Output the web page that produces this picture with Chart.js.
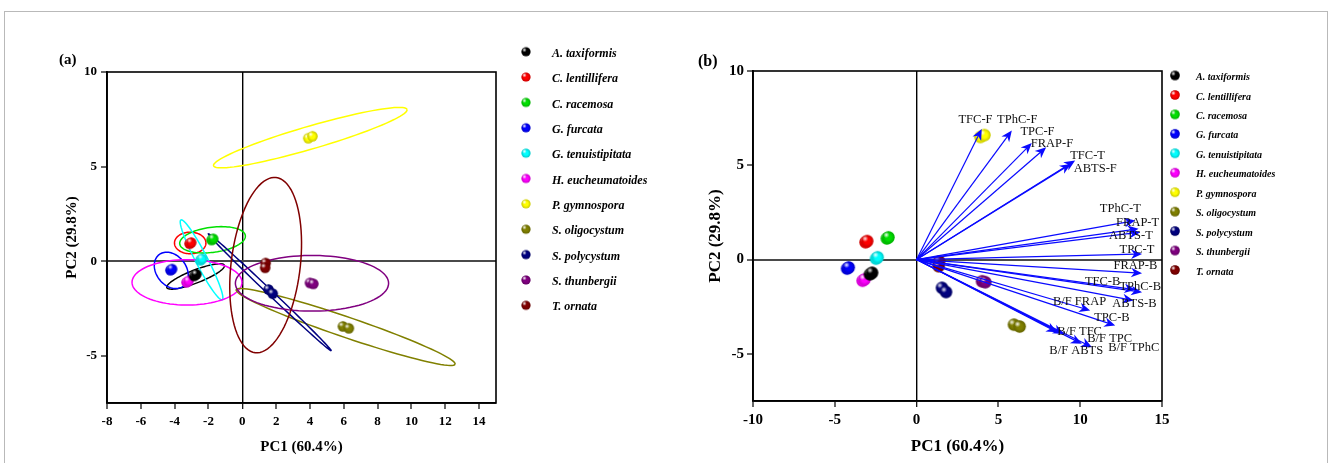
<!DOCTYPE html>
<html>
<head>
<meta charset="utf-8">
<script src="https://cdn.jsdelivr.net/npm/chart.js@4.4.1/dist/chart.umd.min.js"></script>
<style>
  html, body { margin: 0; padding: 0; background: #fff; }
  #page { position: relative; width: 1328px; height: 463px; overflow: hidden; font-family: "Liberation Serif", serif; }
  #frame { position: absolute; left: 4px; top: 11px; width: 1322px; height: 480px; border: 1px solid #b9b9b9; }
  canvas { position: absolute; top: 0; }
  .tag { position: absolute; font-weight: bold; font-size: 15px; color: #000; }
</style>
</head>
<body>
<div id="page">
  <div id="frame"></div>
  <canvas id="chartA" style="left:0" width="680" height="463"></canvas>
  <canvas id="chartB" style="left:680px" width="648" height="463"></canvas>
  <div class="tag" style="left:59px;top:51px">(a)</div>
  <div class="tag" style="left:698px;top:52px;font-size:16px">(b)</div>
</div>
<script>
// PCA score plot (a) with group ellipses, biplot (b) with loading arrows

const FONT = '"Liberation Serif", "Times New Roman", serif';

const species = ['A. taxiformis', 'C. lentillifera', 'C. racemosa', 'G. furcata', 'G. tenuistipitata',
  'H. eucheumatoides', 'P. gymnospora', 'S. oligocystum', 'S. polycystum', 'S. thunbergii', 'T. ornata'];
const speciesColors = ['#000000', '#ff0000', '#00e000', '#0000ff', '#00ffff', '#ff00ff',
  '#ffff00', '#808000', '#000080', '#800080', '#800000'];

// replicate scores per species
const pc1Scores = [[-2.85, -2.72], [-3.12, -3.02], [-1.82, -1.72], [-4.25, -4.15], [-2.48, -2.38],
  [-3.3, -3.18], [3.9, 4.15], [5.95, 6.3], [1.55, 1.8], [4.0, 4.2], [1.38, 1.35]];
const pc2Scores = [[-0.78, -0.7], [0.92, 0.98], [1.12, 1.18], [-0.48, -0.42], [0.05, 0.12],
  [-1.12, -1.05], [6.5, 6.6], [-3.45, -3.55], [-1.5, -1.72], [-1.15, -1.2], [-0.1, -0.35]];

// confidence ellipses (panel a): centre, major and minor half-axis vectors
const ellipseCenterX = [-2.76, -3.08, -1.76, -4.2, -2.41, -3.27, 4.02, 6.11, 1.63, 4.12, 1.38];
const ellipseCenterY = [-0.81, 0.96, 1.13, -0.49, 0.07, -1.12, 6.53, -3.48, -1.65, -1.17, -0.21];
const ellipseMajor = [[1.7, 0.59], [0.93, 0], [1.94, 0.22], [0.71, -0.84], [-1.22, 2.11], [3.25, 0],
  [5.72, 1.49], [6.47, -1.97], [3.63, -3.09], [4.53, 0], [0.62, 4.63]];
const ellipseMinor = [[0.14, -0.32], [0, 0.57], [0.095, -0.66], [0.71, 0.47], [-0.32, -0.14], [0, 1.2],
  [0.19, -0.58], [-0.2, -0.51], [-0.1, -0.095], [0, 1.47], [2.03, -0.22]];

// loadings (panel b)
const loadingNames = ['TFC-F', 'TPhC-F', 'TPC-F', 'FRAP-F', 'TFC-T', 'ABTS-F', 'TPhC-T', 'FRAP-T', 'ABTS-T',
  'TPC-T', 'FRAP-B', 'TFC-B', 'TPhC-B', 'ABTS-B', 'B/F FRAP', 'TPC-B', 'B/F TFC', 'B/F TPC', 'B/F ABTS', 'B/F TPhC'];
const loadingPC1 = [3.98, 5.82, 7.04, 7.92, 9.69, 9.43, 13.37, 13.57, 13.67, 13.78, 13.78, 13.37, 13.78, 13.26,
  10.61, 12.14, 8.6, 10.1, 9.0, 10.72];
const loadingPC2 = [6.93, 6.84, 6.18, 5.95, 5.25, 5.07, 2.07, 1.63, 1.45, 0.3, -0.72, -1.6, -1.73, -2.17,
  -2.7, -3.5, -3.85, -4.47, -3.95, -4.65];
const loadingLabelX = [3.6, 6.15, 7.39, 8.27, 10.45, 10.92, 12.45, 13.51, 13.1, 13.47, 13.37, 11.37, 13.67, 13.31,
  9.96, 11.94, 9.96, 11.8, 9.76, 13.27];
const loadingLabelY = [7.4, 7.4, 6.8, 6.13, 5.51, 4.84, 2.69, 1.98, 1.27, 0.53, -0.32, -1.17, -1.43, -2.35,
  -2.26, -3.09, -3.8, -4.2, -4.86, -4.7];

const xTicksA = [-8, -6, -4, -2, 0, 2, 4, 6, 8, 10, 12, 14];
const xTicksB = [-10, -5, 0, 5, 10, 15];
const yTicks = [-5, 0, 5, 10];

const sphereCache = {};
function sphere(color, r) {
  const key = color + r;
  if (sphereCache[key]) return sphereCache[key];
  const c = document.createElement('canvas');
  c.width = c.height = Math.ceil(2 * r + 2);
  const g = c.getContext('2d');
  const m = c.width / 2;
  g.fillStyle = color;
  g.beginPath(); g.arc(m, m, r, 0, Math.PI * 2); g.fill();
  const shade = g.createRadialGradient(m, m, r * 0.45, m, m, r);
  shade.addColorStop(0, 'rgba(0,0,0,0)');
  shade.addColorStop(1, 'rgba(0,0,0,0.22)');
  g.fillStyle = shade; g.fill();
  const hi = g.createRadialGradient(m - r * 0.35, m - r * 0.4, 0, m - r * 0.35, m - r * 0.4, r * 0.5);
  hi.addColorStop(0, 'rgba(255,255,255,0.95)');
  hi.addColorStop(1, 'rgba(255,255,255,0)');
  g.fillStyle = hi; g.fill();
  sphereCache[key] = c;
  return c;
}

function zeroGrid(color, width) {
  return {
    color: (c) => (c.tick && c.tick.value === 0 ? color : 'rgba(0,0,0,0)'),
    lineWidth: (c) => (c.tick && c.tick.value === 0 ? width : 0),
    tickColor: '#000', tickWidth: 1.2, tickLength: 6, drawTicks: true,
  };
}

function axis(o) {
  return {
    type: 'linear', min: o.min, max: o.max,
    afterBuildTicks: (s) => { s.ticks = o.ticks.map((v) => ({ value: v })); },
    afterFit: (s) => { if (o.width) s.width = o.width; if (o.height) s.height = o.height; },
    ticks: { font: { family: FONT, weight: 'bold', size: o.tickSize }, color: '#000', padding: o.tickPad, callback: (v) => String(v) },
    title: { display: true, text: o.title, color: '#000', font: { family: FONT, weight: 'bold', size: o.titleSize }, padding: o.titlePad },
    grid: zeroGrid(o.zeroColor, o.zeroWidth),
    border: { display: true, color: '#000', width: 1.8 },
  };
}

const plotBox = {
  id: 'plotBox',
  afterDraw(chart) {
    const { ctx, chartArea: a } = chart;
    ctx.save();
    ctx.strokeStyle = '#000';
    ctx.lineWidth = 1.6;
    ctx.strokeRect(a.left, a.top, a.right - a.left, a.bottom - a.top);
    ctx.restore();
  },
};

const ellipses = {
  id: 'ellipses',
  beforeDatasetsDraw(chart) {
    const { ctx, chartArea: a, scales: { x, y } } = chart;
    ctx.save();
    ctx.beginPath(); ctx.rect(a.left, a.top, a.width, a.height); ctx.clip();
    ctx.lineWidth = 1.5;
    species.forEach((_, i) => {
      const [ux, uy] = ellipseMajor[i];
      const [vx, vy] = ellipseMinor[i];
      ctx.beginPath();
      for (let k = 0; k <= 90; k++) {
        const t = (k / 90) * Math.PI * 2;
        const px = x.getPixelForValue(ellipseCenterX[i] + ux * Math.cos(t) + vx * Math.sin(t));
        const py = y.getPixelForValue(ellipseCenterY[i] + uy * Math.cos(t) + vy * Math.sin(t));
        if (k) ctx.lineTo(px, py); else ctx.moveTo(px, py);
      }
      ctx.strokeStyle = speciesColors[i];
      ctx.stroke();
    });
    ctx.restore();
  },
};

const loadings = {
  id: 'loadings',
  afterDatasetsDraw(chart) {
    const { ctx, scales: { x, y } } = chart;
    const x0 = x.getPixelForValue(0), y0 = y.getPixelForValue(0);
    ctx.save();
    ctx.strokeStyle = '#0a0aff';
    ctx.fillStyle = '#0a0aff';
    ctx.lineWidth = 1.2;
    loadingNames.forEach((_, i) => {
      const x1 = x.getPixelForValue(loadingPC1[i]), y1 = y.getPixelForValue(loadingPC2[i]);
      const ang = Math.atan2(y1 - y0, x1 - x0);
      const cs = Math.cos(ang), sn = Math.sin(ang);
      const hl = 11, hw = 4.8;
      const bx = x1 - hl * cs, by = y1 - hl * sn;
      ctx.beginPath(); ctx.moveTo(x0, y0); ctx.lineTo(x1 - 6 * cs, y1 - 6 * sn); ctx.stroke();
      ctx.beginPath();
      ctx.moveTo(x1, y1);
      ctx.lineTo(bx - hw * sn, by + hw * cs);
      ctx.lineTo(x1 - 0.7 * hl * cs, y1 - 0.7 * hl * sn);
      ctx.lineTo(bx + hw * sn, by - hw * cs);
      ctx.closePath();
      ctx.fill();
    });
    ctx.fillStyle = '#111';
    ctx.font = '12.5px ' + FONT;
    ctx.textAlign = 'center';
    ctx.textBaseline = 'middle';
    loadingNames.forEach((name, i) => {
      ctx.fillText(name, x.getPixelForValue(loadingLabelX[i]), y.getPixelForValue(loadingLabelY[i]));
    });
    ctx.restore();
  },
};

function sphereLegend(id, cx, y0, dy, textX, size, r) {
  return {
    id,
    afterDraw(chart) {
      const ctx = chart.ctx;
      ctx.save();
      ctx.font = 'italic bold ' + size + 'px ' + FONT;
      ctx.fillStyle = '#000';
      ctx.textAlign = 'left';
      ctx.textBaseline = 'middle';
      species.forEach((name, i) => {
        const yy = y0 + i * dy;
        const img = sphere(speciesColors[i], r);
        ctx.drawImage(img, cx - img.width / 2, yy - img.height / 2);
        ctx.fillText(name, textX, yy + 2);
      });
      ctx.restore();
    },
  };
}

function scoreDatasets(r) {
  return species.map((name, i) => ({
    label: name,
    data: pc1Scores[i].map((v, j) => ({ x: v, y: pc2Scores[i][j] })),
    pointStyle: sphere(speciesColors[i], r),
    pointRadius: r,
  }));
}

const common = { responsive: false, animation: false, devicePixelRatio: 1 };

new Chart(document.getElementById('chartA'), {
  type: 'scatter',
  data: { datasets: scoreDatasets(5.2) },
  options: {
    ...common,
    layout: { padding: { left: 40, top: 72, right: 184, bottom: 0 } },
    plugins: { legend: { display: false }, tooltip: { enabled: false } },
    scales: {
      x: axis({ min: -8, max: 15, ticks: xTicksA, height: 60, tickSize: 13, tickPad: 5, title: 'PC1 (60.4%)',
        titleSize: 15, titlePad: { top: 0, bottom: 7 }, zeroColor: '#000', zeroWidth: 1.4 }),
      y: axis({ min: -7.5, max: 10, ticks: yTicks, width: 67, tickSize: 13, tickPad: 4, title: 'PC2 (29.8%)',
        titleSize: 15, titlePad: { top: 23, bottom: 0 }, zeroColor: '#4a4a4a', zeroWidth: 2 }),
    },
  },
  plugins: [ellipses, plotBox, sphereLegend('legendA', 526, 51.7, 25.36, 552, 12, 4.6)],
});

new Chart(document.getElementById('chartB'), {
  type: 'scatter',
  data: { datasets: scoreDatasets(6.2) },
  options: {
    ...common,
    layout: { padding: { left: 10, top: 71, right: 166, bottom: 0 } },
    plugins: { legend: { display: false }, tooltip: { enabled: false } },
    scales: {
      x: axis({ min: -10, max: 15, ticks: xTicksB, height: 62, tickSize: 15, tickPad: 4, title: 'PC1 (60.4%)',
        titleSize: 17, titlePad: { top: 0, bottom: 6 }, zeroColor: '#000', zeroWidth: 1.4 }),
      y: axis({ min: -7.5, max: 10, ticks: yTicks, width: 63, tickSize: 15, tickPad: 3, title: 'PC2 (29.8%)',
        titleSize: 17, titlePad: { top: 15, bottom: 0 }, zeroColor: '#4a4a4a', zeroWidth: 2 }),
    },
  },
  plugins: [loadings, plotBox, sphereLegend('legendB', 495, 75.5, 19.45, 516, 10, 4.8)],
});
</script>
</body>
</html>
